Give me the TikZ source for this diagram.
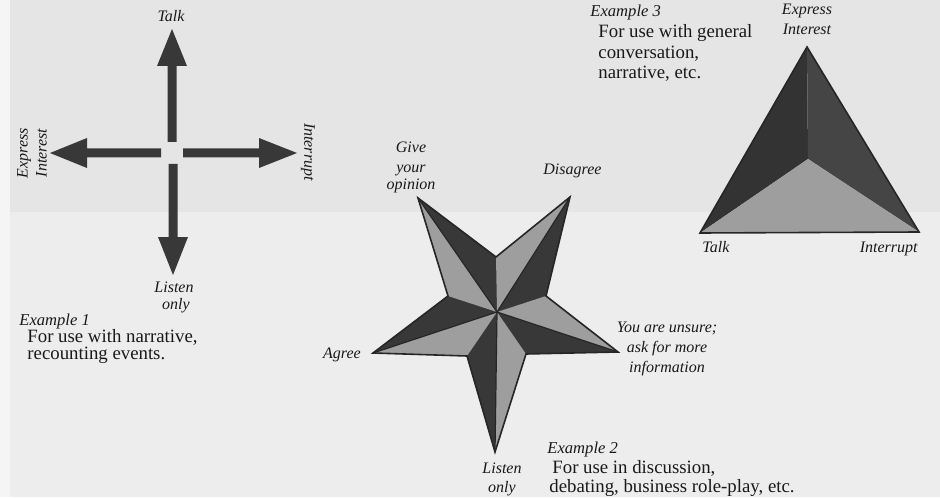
\documentclass[tikz,border=0pt]{standalone}
\usepackage{fontspec}
\setmainfont{Liberation Serif}
\begin{document}
\begin{tikzpicture}[x=0.5pt,y=-0.5pt,
  ink/.style={text=black!90},
  lab/.style={ink,inner sep=0pt,font=\fontsize{8.0}{9.5}\selectfont\itshape},
  exlab/.style={ink,inner sep=0pt,font=\fontsize{8.3}{10}\selectfont\itshape},
  body/.style={ink,inner sep=0pt,font=\fontsize{9.4}{10}\selectfont},
  lightfill/.style={fill=black!38}]
% background
\fill[black!7!white] (0,0) rectangle (940,497);
\fill[blue!3!black!10!white] (10,0) rectangle (940,212);
\fill[black!4!white] (0,0) rectangle (10,497);
\useasboundingbox (0,0) rectangle (940,497);

% ---------- Example 1: cross ----------
\fill[black!78] (167.5,142) -- (167.5,66) -- (157,66) -- (172,29) -- (187,66) -- (176.5,66) -- (176.5,142) -- cycle;
\fill[black!78] (161,148.5) -- (87,148.5) -- (87,138) -- (50,153) -- (87,168) -- (87,157.5) -- (161,157.5) -- cycle;
\fill[black!78] (183,148.5) -- (259,148.5) -- (259,138) -- (297,153) -- (259,168) -- (259,157.5) -- (183,157.5) -- cycle;
\fill[black!78] (168.5,164) -- (168.5,237) -- (158,237) -- (173,275) -- (188,237) -- (177.5,237) -- (177.5,164) -- cycle;

\node[lab,anchor=base] (c1talk) at (171,22) {Talk};
\node[lab,align=center,rotate=90] (c1expr) at (32,153) {Express\\Interest};
\node[lab,rotate=-90] (c1int) at (308,152) {Interrupt};
\node[lab,anchor=base] (c1listen) at (174,292) {Listen};
\node[lab,anchor=base] (c1only) at (176,309) {only};
\node[exlab,anchor=base west] (ex1) at (19,325) {Example 1};
\node[body,anchor=base west] (ex1a) at (27,342) {For use with narrative,};
\node[body,anchor=base west] (ex1b) at (27,359) {recounting events.};

% ---------- Example 2: star ----------
\coordinate (C) at (497,312);
\coordinate (T1) at (418,198);
\coordinate (T2) at (570,197);
\coordinate (T3) at (618,352);
\coordinate (T4) at (495,452);
\coordinate (T5) at (373,353);
\coordinate (I12) at (496,257);
\coordinate (I23) at (546,296);
\coordinate (I34) at (526,354);
\coordinate (I45) at (467,356);
\coordinate (I51) at (448,296);
\fill[black!78] (T1) -- (I12) -- (T2) -- (I23) -- (T3) -- (I34) -- (T4) -- (I45) -- (T5) -- (I51) -- cycle;
\fill[lightfill] (T1) -- (I51) -- (C) -- cycle;
\fill[lightfill] (T2) -- (I12) -- (C) -- cycle;
\fill[lightfill] (T3) -- (I23) -- (C) -- cycle;
\fill[lightfill] (T4) -- (I34) -- (C) -- cycle;
\fill[lightfill] (T5) -- (I45) -- (C) -- cycle;
\draw[black!85,line width=0.6pt] (T1) -- (C) (T2) -- (C) (T3) -- (C) (T4) -- (C) (T5) -- (C);
\draw[black!85,line width=0.8pt,line join=miter] (T1) -- (I12) -- (T2) -- (I23) -- (T3) -- (I34) -- (T4) -- (I45) -- (T5) -- (I51) -- cycle;

\node[lab,anchor=base] (sgive) at (411,153) {Give};
\node[lab,anchor=base] (syour) at (411,172) {your};
\node[lab,anchor=base] (sopin) at (411,190) {opinion};
\node[lab,anchor=base west] (sdis) at (543,175) {Disagree};
\node[lab,anchor=base] (sagree) at (342,358) {Agree};
\node[lab,anchor=base] (sun1) at (667,332) {You are unsure;};
\node[lab,anchor=base] (sun2) at (667,352) {ask for more};
\node[lab,anchor=base] (sun3) at (667,372) {information};
\node[lab,anchor=base] (slisten) at (502,473) {Listen};
\node[lab,anchor=base] (sonly) at (502,492) {only};
\node[exlab,anchor=base west] (ex2) at (547,453) {Example 2};
\node[body,anchor=base west] (ex2a) at (552,473) {For use in discussion,};
\node[body,anchor=base west] (ex2b) at (549,492) {debating, business role-play, etc.};

% ---------- Example 3: triangle ----------
\coordinate (A) at (807,47);
\coordinate (L) at (700,233);
\coordinate (R) at (919,232);
\coordinate (M) at (808,159);
\fill[black!80] (A) -- (L) -- (M) -- cycle;
\fill[black!73] (A) -- (M) -- (R) -- cycle;
\fill[lightfill] (L) -- (M) -- (R) -- cycle;
\draw[black!85,line width=0.8pt,line join=miter] (A) -- (L) -- (R) -- cycle;

\node[lab,anchor=base] (texp) at (807,15) {Express};
\node[lab,anchor=base] (tint) at (807,35) {Interest};
\node[lab,anchor=base west] (ttalk) at (702,252) {Talk};
\node[lab,anchor=base east] (tintr) at (918,252) {Interrupt};
\node[exlab,anchor=base west] (ex3) at (590,17) {Example 3};
\node[body,anchor=base west] (ex3a) at (598,38) {For use with general};
\node[body,anchor=base west] (ex3b) at (598,59) {conversation,};
\node[body,anchor=base west] (ex3c) at (598,79) {narrative, etc.};
\end{tikzpicture}
\end{document}
